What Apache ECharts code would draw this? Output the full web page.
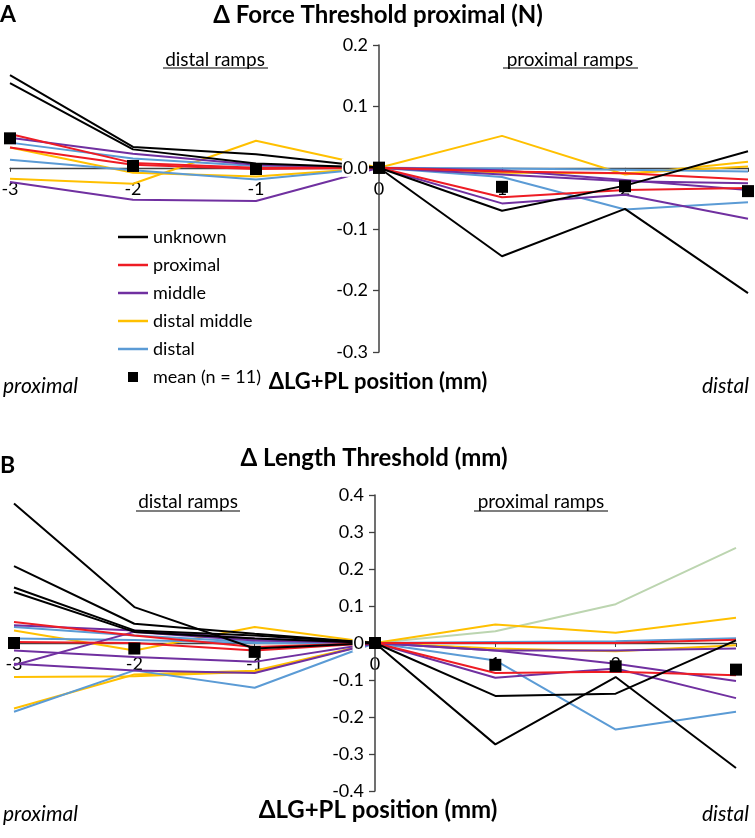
<!DOCTYPE html>
<html>
<head>
<meta charset="utf-8">
<script src="https://cdn.jsdelivr.net/npm/echarts@6/dist/echarts.min.js"></script>
<style>
html, body { margin: 0; padding: 0; background: #fff; }
#chart { width: 755px; height: 838px; }
</style>
</head>
<body>
<div id="chart"></div>
<script>
// x positions (mm) of each ramp set
var xDistal = [-3, -2, -1, 0];
var xProximal = [0, 1, 2, 3];
var xTickLabels = ['-3', '-2', '-1', '0', '1', '2', ''];

// A: force threshold, distal ramps (left half)
var forceDistalUnknown = [[0.151, 0.034, 0.022, 0], [0.138, 0.030, 0.007, 0]];
var forceDistalProximal = [[0.055, 0.008, 0.000, 0], [0.033, 0.005, -0.002, 0]];
var forceDistalMiddle = [[0.049, 0.023, 0.005, 0], [-0.023, -0.052, -0.054, 0]];
var forceDistalDistMid = [[0.033, -0.008, -0.014, 0], [-0.018, -0.026, 0.044, 0]];
var forceDistalDistal = [[0.041, 0.015, 0.003, 0], [0.013, -0.004, -0.019, 0]];
var forceDistalMean = [0.048, 0.003, -0.002, 0];

// A: force threshold, proximal ramps (right half)
var forceProxUnknown = [[0, -0.070, -0.029, 0.027], [0, -0.144, -0.067, -0.204]];
var forceProxProximal = [[0, -0.006, -0.009, -0.019], [0, -0.048, -0.036, -0.033]];
var forceProxMiddle = [[0, -0.011, -0.022, -0.025], [0, -0.058, -0.044, -0.083], [0, -0.004, -0.020, -0.036]];
var forceProxDistMid = [[0, 0.052, -0.011, 0.010], [0, -0.008, -0.009, 0.002]];
var forceProxDistal = [[0, -0.015, -0.068, -0.056], [0, -0.001, -0.003, -0.006]];
var forceProxMean = [0, -0.031, -0.030, -0.038];

// B: length threshold, distal ramps
var lengthDistalUnknown = [[0.377, 0.097, -0.015, 0], [0.208, 0.052, 0.025, 0], [0.150, 0.034, 0.020, 0], [0.138, 0.030, 0.012, 0]];
var lengthDistalProximal = [[0.057, 0.020, -0.011, 0], [0.003, 0.000, -0.020, 0]];
var lengthDistalMiddle = [[0.048, 0.034, 0.012, 0], [-0.060, 0.030, 0.007, 0], [-0.020, -0.038, -0.051, 0], [-0.056, -0.074, -0.081, 0]];
var lengthDistalDistMid = [[0.034, -0.020, 0.043, 0], [-0.092, -0.090, -0.078, 0], [-0.177, -0.085, -0.075, 0]];
var lengthDistalDistal = [[-0.186, -0.074, -0.121, 0], [0.043, 0.020, 0.003, 0], [0.012, 0.008, 0.000, 0]];
var lengthDistalMean = [0, -0.015, -0.024, 0];

// B: length threshold, proximal ramps
var lengthProxUnknown = [[0, -0.143, -0.137, 0.007], [0, -0.274, -0.092, -0.338]];
var lengthProxProximal = [[0, 0.000, 0.000, 0.009], [0, -0.081, -0.078, -0.087]];
var lengthProxMiddle = [[0, -0.020, -0.020, -0.015], [0, -0.020, -0.056, -0.103], [0, -0.094, -0.069, -0.149]];
var lengthProxDistMid = [[0, 0.050, 0.028, 0.068], [0, -0.015, -0.022, -0.006]];
var lengthProxDistal = [[0, -0.047, -0.234, -0.186], [0, 0.003, 0.005, 0.013]];
var lengthProxOther = [[0, 0.032, 0.105, 0.257]];
var lengthProxMean = [0, -0.059, -0.063, -0.072];

var FONT = 'Lato';
var colors = {
	unknown: '#000000',
	proximal: '#ee1c24',
	middle: '#7030a0',
	distMid: '#ffc000',
	distal: '#5b9bd5',
	other: '#bcd5b0'
};

// grid boxes and y ranges
var gridA = { left: 10, top: 45, width: 738, height: 307, min: -0.3, max: 0.2 };
var gridB = { left: 14, top: 495, width: 722, height: 296, min: -0.4, max: 0.4 };

var series = [];

function addLines(xs, sets, name, color, gi) {
	for(var s = 0; s < sets.length; s++) {
		var pts = [];
		for(var i = 0; i < xs.length; i++) {
			pts.push([xs[i], sets[s][i]]);
		}
		series.push({
			type: 'line',
			name: name,
			xAxisIndex: gi,
			yAxisIndex: gi,
			symbol: 'none',
			data: pts,
			lineStyle: { color: color, width: 2 },
			itemStyle: { color: color },
			z: 2
		});
	}
}

function addMean(xs, vals, gi) {
	var pts = [];
	for(var i = 0; i < xs.length; i++) {
		pts.push([xs[i], vals[i]]);
	}
	series.push({
		type: 'scatter',
		name: 'mean (n = 11)',
		xAxisIndex: gi,
		yAxisIndex: gi,
		symbol: 'rect',
		symbolSize: 12,
		data: pts,
		itemStyle: { color: '#000', opacity: 1 },
		z: 10
	});
}

// panel A
addLines(xDistal, forceDistalDistMid, 'distal middle', colors.distMid, 0);
addLines(xDistal, forceDistalDistal, 'distal', colors.distal, 0);
addLines(xDistal, forceDistalMiddle, 'middle', colors.middle, 0);
addLines(xDistal, forceDistalProximal, 'proximal', colors.proximal, 0);
addLines(xDistal, forceDistalUnknown, 'unknown', colors.unknown, 0);
addLines(xProximal, forceProxDistMid, 'distal middle', colors.distMid, 0);
addLines(xProximal, forceProxDistal, 'distal', colors.distal, 0);
addLines(xProximal, forceProxMiddle, 'middle', colors.middle, 0);
addLines(xProximal, forceProxProximal, 'proximal', colors.proximal, 0);
addLines(xProximal, forceProxUnknown, 'unknown', colors.unknown, 0);
addMean(xDistal, forceDistalMean, 0);
addMean(xProximal, forceProxMean, 0);

// panel B
addLines(xProximal, lengthProxOther, 'other', colors.other, 1);
addLines(xDistal, lengthDistalDistMid, 'distal middle', colors.distMid, 1);
addLines(xDistal, lengthDistalDistal, 'distal', colors.distal, 1);
addLines(xDistal, lengthDistalMiddle, 'middle', colors.middle, 1);
addLines(xDistal, lengthDistalProximal, 'proximal', colors.proximal, 1);
addLines(xDistal, lengthDistalUnknown, 'unknown', colors.unknown, 1);
addLines(xProximal, lengthProxDistMid, 'distal middle', colors.distMid, 1);
addLines(xProximal, lengthProxDistal, 'distal', colors.distal, 1);
addLines(xProximal, lengthProxMiddle, 'middle', colors.middle, 1);
addLines(xProximal, lengthProxProximal, 'proximal', colors.proximal, 1);
addLines(xProximal, lengthProxUnknown, 'unknown', colors.unknown, 1);
addMean(xDistal, lengthDistalMean, 1);
addMean(xProximal, lengthProxMean, 1);

// x axis sits on y = 0: shift it up from the grid bottom
function xAxisOf(gi, g) {
	var zeroFromBottom = g.height * (0 - g.min) / (g.max - g.min);
	return {
		gridIndex: gi,
		type: 'value',
		position: 'bottom',
		offset: -zeroFromBottom,
		min: -3,
		max: 3,
		interval: 1,
		axisLine: { onZero: false, lineStyle: { color: '#404040', width: 1.3 } },
		axisTick: { show: true, length: 4, lineStyle: { color: '#404040' } },
		axisLabel: {
			fontFamily: FONT,
			fontSize: 18,
			color: '#000',
			margin: 12,
			formatter: function(v) {
				return xTickLabels[Math.round(v) + 3];
			}
		},
		splitLine: { show: false }
	};
}

// y axis sits on x = 0: shift it right from the grid left edge
function yAxisOf(gi, g, zeroText) {
	return {
		gridIndex: gi,
		type: 'value',
		position: 'left',
		offset: -g.width / 2,
		min: g.min,
		max: g.max,
		interval: 0.1,
		z: 3,
		axisLine: { show: true, onZero: false, lineStyle: { color: '#404040', width: 1.5 } },
		axisTick: { show: true, length: 6, lineStyle: { color: '#404040', width: 1.3 } },
		axisLabel: {
			fontFamily: FONT,
			fontSize: 18,
			color: '#000',
			margin: 10,
			backgroundColor: '#fff',
			padding: [0, 1],
			formatter: function(v) {
				if(Math.abs(v) < 1e-9) return zeroText;
				return v.toFixed(1);
			}
		},
		splitLine: { show: false }
	};
}

function txt(x, y, s, size, opt) {
	opt = opt || {};
	return {
		type: 'text',
		x: x,
		y: y,
		style: {
			text: s,
			fontFamily: FONT,
			fontSize: size,
			fontWeight: opt.bold ? 'bold' : 'normal',
			fontStyle: opt.italic ? 'italic' : 'normal',
			fill: '#000',
			align: opt.align || 'center',
			verticalAlign: 'middle'
		},
		z: 20
	};
}

function uline(x1, x2, y) {
	return {
		type: 'line',
		shape: { x1: x1, y1: y, x2: x2, y2: y },
		style: { stroke: '#000', lineWidth: 1.2 },
		z: 20
	};
}

var lineIcon = 'path://M0,0 H30 V2.5 H0 Z';
var boxIcon = 'path://M0,0 H10 V10 H0 Z';

var chart = echarts.init(document.getElementById('chart'), null, { renderer: 'canvas' });
chart.setOption({
	animation: false,
	backgroundColor: '#fff',
	grid: [
		{ left: gridA.left, top: gridA.top, width: gridA.width, height: gridA.height, containLabel: false, outerBoundsMode: 'none' },
		{ left: gridB.left, top: gridB.top, width: gridB.width, height: gridB.height, containLabel: false, outerBoundsMode: 'none' }
	],
	xAxis: [xAxisOf(0, gridA), xAxisOf(1, gridB)],
	yAxis: [yAxisOf(0, gridA, '0.0'), yAxisOf(1, gridB, '0')],
	legend: {
		orient: 'vertical',
		left: 113,
		top: 222,
		itemWidth: 30,
		itemHeight: 10,
		itemGap: 8,
		symbolKeepAspect: true,
		textStyle: { fontFamily: FONT, fontSize: 18, color: '#000', lineHeight: 20 },
		data: [
			{ name: 'unknown', icon: lineIcon },
			{ name: 'proximal', icon: lineIcon },
			{ name: 'middle', icon: lineIcon },
			{ name: 'distal middle', icon: lineIcon },
			{ name: 'distal', icon: lineIcon },
			{ name: 'mean (n = 11)', icon: boxIcon }
		]
	},
	graphic: [
		txt(0, 15, 'A', 23, { bold: true, align: 'left' }),
		txt(378, 15, 'Δ Force Threshold proximal (N)', 24, { bold: true }),
		txt(215, 60, 'distal ramps', 19),
		uline(163, 268, 68),
		txt(570, 60, 'proximal ramps', 19),
		uline(503, 638, 68),
		txt(3, 386, 'proximal', 21, { italic: true, align: 'left' }),
		txt(378, 382, 'ΔLG+PL position (mm)', 22, { bold: true }),
		txt(749, 386, 'distal', 21, { italic: true, align: 'right' }),

		txt(0, 466, 'B', 23, { bold: true, align: 'left' }),
		txt(374, 458, 'Δ Length Threshold (mm)', 24, { bold: true }),
		txt(188, 502, 'distal ramps', 19),
		uline(136, 240, 511),
		txt(541, 502, 'proximal ramps', 19),
		uline(474, 608, 511),
		txt(3, 814, 'proximal', 21, { italic: true, align: 'left' }),
		txt(378, 810, 'ΔLG+PL position (mm)', 24, { bold: true }),
		txt(749, 814, 'distal', 21, { italic: true, align: 'right' })
	],
	series: series
});
</script>
</body>
</html>
